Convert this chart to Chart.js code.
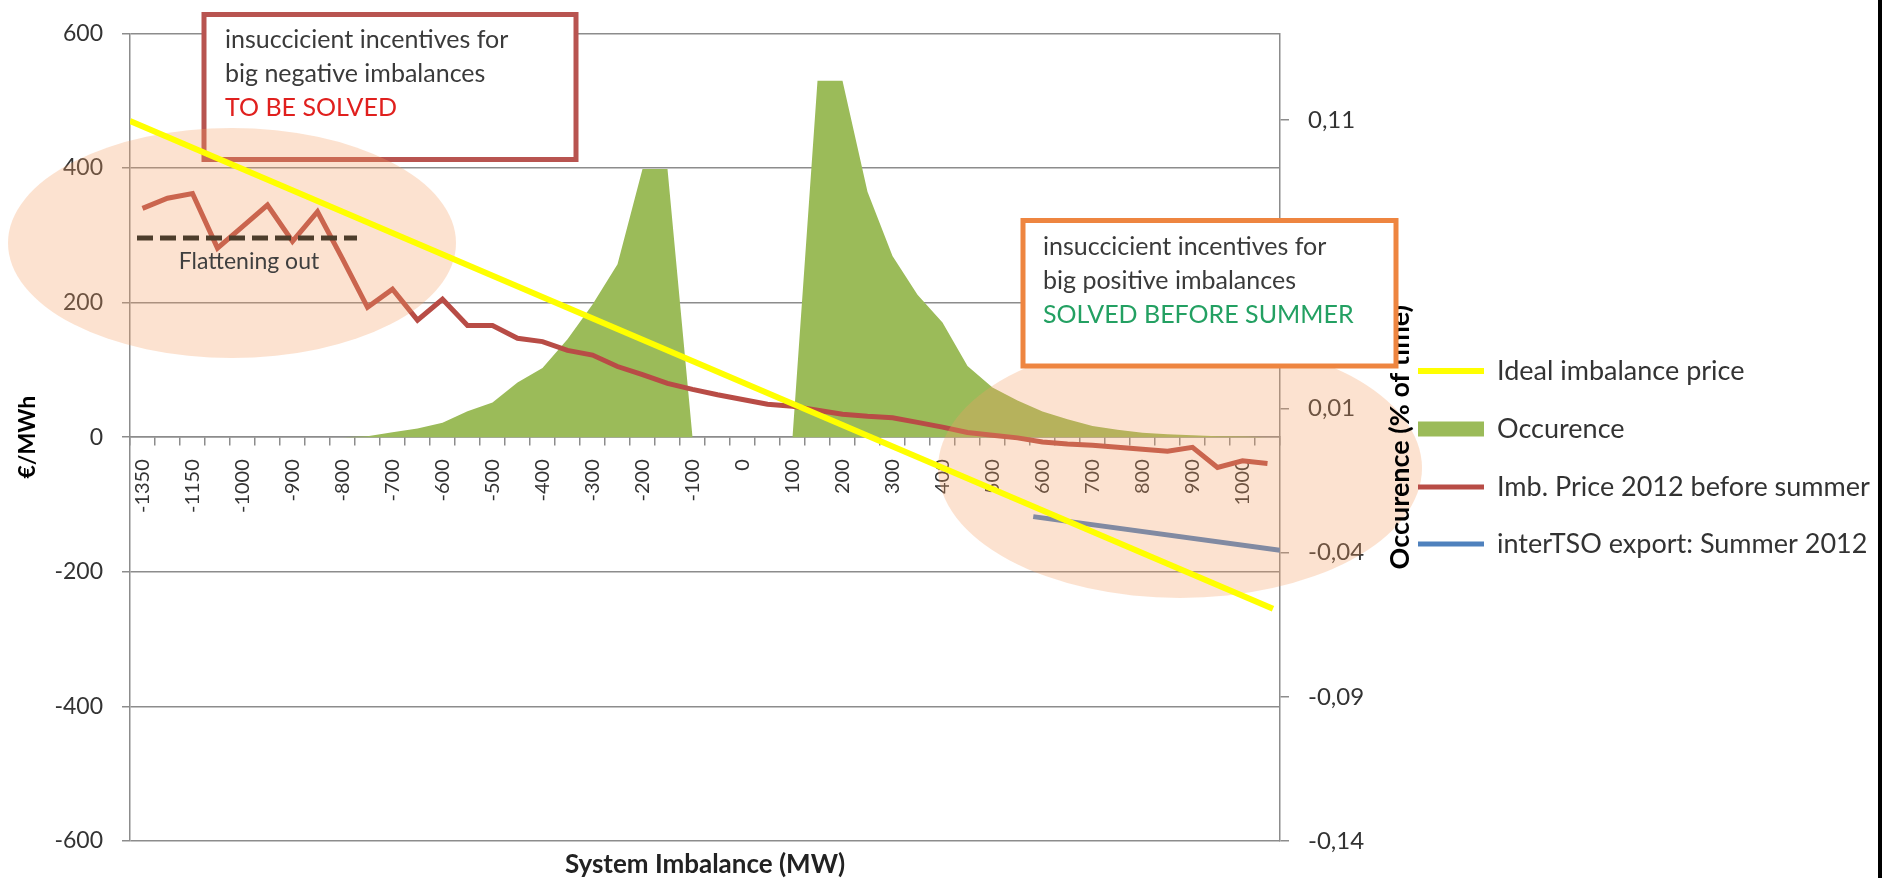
<!DOCTYPE html>
<html>
<head>
<meta charset="utf-8">
<script src="https://cdn.jsdelivr.net/npm/chart.js@4.4.1/dist/chart.umd.min.js"></script>
<style>
html,body{margin:0;padding:0;background:#fff;}
#wrap{width:1894px;height:878px;position:relative;overflow:hidden;}
</style>
</head>
<body>
<div id="wrap"><canvas id="c" width="1894" height="878"></canvas></div>
<script>
// ---------- data ----------
const categories = ['-1350','-1250','-1150','-1050','-1000','-950','-900','-850','-800','-750',
  '-700','-650','-600','-550','-500','-450','-400','-350','-300','-250',
  '-200','-150','-100','-50','0','50','100','150','200','250',
  '300','350','400','450','500','550','600','650','700','750',
  '800','850','900','950','1000','1050'];

// Occurence (right axis, % of time)
const occurence = [0,0,0,0,0,0,0,0,0,0.0003,
  0.0017,0.003,0.005,0.009,0.012,0.019,0.024,0.034,0.046,0.060,
  0.093,0.093,0,0,0,0,0,0.1236,0.1236,0.0851,
  0.0628,0.0494,0.0398,0.0247,0.0172,0.0127,0.0089,0.0062,0.0039,0.0026,
  0.0015,0.0010,0.0007,0.0003,0.0002,0];

// Imb. Price 2012 before summer (left axis, EUR/MWh)
const imbPrice = [340,355,362,281,313,345,291,335,265,193,
  220,174,205,166,166,147,142,129,122,105,
  93,80,71,63,56,49,46,40,34,31,
  29,22,15,7,3,-1,-7,-10,-12,-15,
  -18,-21,-15,-45,-35,-39];

// Ideal imbalance price: straight line (position in category units, value in EUR/MWh)
const idealX = [-0.5, 45.22];
const idealY = [470, -255];

// interTSO export: Summer 2012
const exportX = [35.63, 45.5];
const exportY = [-118, -168];

// Tick values
const rightTicks = [-0.14, -0.09, -0.04, 0.01, 0.06, 0.11];
const flatteningLevel = 296;
const flatteningRange = [-0.22, 8.58];

const seriesNames = ['Ideal imbalance price','Occurence','Imb. Price 2012 before summer','interTSO export: Summer 2012'];

// ---------- chart ----------
Chart.defaults.font.family = 'Lato, "Open Sans", sans-serif';
Chart.defaults.color = '#333';

const GRID = '#8c8c8c';

const annot = {
  id: 'annot',
  beforeDatasetDraw(chart, args) {
    if (args.index !== 0) return;
    const c = chart.ctx;
    // red box (below ellipse)
    c.save();
    c.fillStyle = '#ffffff';
    c.fillRect(204, 14.5, 372, 145);
    c.lineWidth = 5;
    c.strokeStyle = '#B85450';
    c.strokeRect(204, 14.5, 372, 145);
    c.font = '25px Lato';
    c.textAlign = 'left';
    c.textBaseline = 'alphabetic';
    c.fillStyle = '#3a3a3a';
    c.fillText('insuccicient incentives for', 225, 48);
    c.fillText('big negative imbalances', 225, 82);
    c.fillStyle = '#E0201E';
    c.fillText('TO BE SOLVED', 225, 116);
    // ellipses
    c.fillStyle = 'rgba(245,160,100,0.3)';
    c.beginPath();
    c.ellipse(232, 243, 224, 115, 0, 0, Math.PI * 2);
    c.fill();
    c.beginPath();
    c.ellipse(1180, 468, 242, 130, 0, 0, Math.PI * 2);
    c.fill();
    c.restore();
  },
  afterDatasetsDraw(chart) {
    const c = chart.ctx;
    const ys = chart.scales.y, xl = chart.scales.xl;
    c.save();
    // right axis title (reads bottom to top)
    c.save();
    c.translate(1400, (chart.chartArea.top + chart.chartArea.bottom) / 2);
    c.rotate(-Math.PI / 2);
    c.font = 'bold 27px Lato';
    c.fillStyle = '#000';
    c.textAlign = 'center';
    c.textBaseline = 'middle';
    c.fillText('Occurence (% of time)', 0, 0);
    c.restore();
    // orange box
    c.fillStyle = '#ffffff';
    c.fillRect(1023, 220.5, 373, 145.5);
    c.lineWidth = 5;
    c.strokeStyle = '#EE8540';
    c.strokeRect(1023, 220.5, 373, 145.5);
    c.font = '25px Lato';
    c.textAlign = 'left';
    c.textBaseline = 'alphabetic';
    c.fillStyle = '#3a3a3a';
    c.fillText('insuccicient incentives for', 1043, 255);
    c.fillText('big positive imbalances', 1043, 289);
    c.fillStyle = '#23A062';
    c.fillText('SOLVED BEFORE SUMMER', 1043, 323);
    // flattening dashed line
    const fy = ys.getPixelForValue(flatteningLevel);
    c.setLineDash([16, 7]);
    c.lineWidth = 5;
    c.strokeStyle = '#4d3d2b';
    c.beginPath();
    c.moveTo(xl.getPixelForValue(flatteningRange[0]), fy);
    c.lineTo(xl.getPixelForValue(flatteningRange[1]), fy);
    c.stroke();
    c.setLineDash([]);
    c.font = '23px Lato';
    c.fillStyle = '#3f3f3f';
    c.textAlign = 'center';
    c.textBaseline = 'middle';
    c.fillText('Flattening out', 249, fy + 24);
    // legend
    const legendY = [371, 429, 487, 544];
    c.font = '27px Lato';
    c.textAlign = 'left';
    c.textBaseline = 'middle';
    chart.data.datasets.forEach((ds, i) => {
      const y = legendY[i];
      if (ds.fill) {
        c.fillStyle = ds.backgroundColor;
        c.fillRect(1418, y - 7.5, 66, 15);
      } else {
        c.strokeStyle = ds.borderColor;
        c.lineWidth = ds.borderWidth;
        c.beginPath();
        c.moveTo(1418, y);
        c.lineTo(1484, y);
        c.stroke();
      }
      c.fillStyle = '#333';
      c.fillText(ds.label, 1497, y);
    });
    // right frame edge
    c.fillStyle = '#ffffff';
    c.fillRect(1878, 0, 16, 878);
    c.fillStyle = '#000000';
    c.fillRect(1878, 0, 4, 878);
    c.restore();
  }
};

new Chart(document.getElementById('c'), {
  type: 'line',
  data: {
    labels: categories,
    datasets: [
      {
        label: seriesNames[0],
        data: idealX.map((x, i) => ({x: x, y: idealY[i]})),
        xAxisID: 'xl', yAxisID: 'y',
        borderColor: '#FFFF00', borderWidth: 6,
        pointRadius: 0, tension: 0, order: 0, fill: false
      },
      {
        label: seriesNames[1],
        data: occurence,
        xAxisID: 'x', yAxisID: 'y2',
        backgroundColor: '#9BBB59', borderColor: 'rgba(0,0,0,0)', borderWidth: 0,
        pointRadius: 0, tension: 0, order: 3, fill: 'origin'
      },
      {
        label: seriesNames[2],
        data: imbPrice,
        xAxisID: 'x', yAxisID: 'y',
        borderColor: '#B84C46', borderWidth: 5,
        pointRadius: 0, tension: 0, order: 2, fill: false
      },
      {
        label: seriesNames[3],
        data: exportX.map((x, i) => ({x: x, y: exportY[i]})),
        xAxisID: 'xl', yAxisID: 'y',
        borderColor: '#4F81BD', borderWidth: 5,
        pointRadius: 0, tension: 0, order: 1, fill: false
      }
    ]
  },
  options: {
    responsive: false,
    animation: false,
    devicePixelRatio: 1,
    layout: {padding: {left: 0, top: 25, right: 514, bottom: 0}},
    plugins: {legend: {display: false}, tooltip: {enabled: false}},
    scales: {
      x: {
        type: 'category',
        position: {y: 0},
        offset: true,
        grid: {display: true, drawOnChartArea: false, offset: true, tickLength: 8, color: GRID, lineWidth: 1.5},
        border: {display: true, color: GRID, width: 1.5},
        ticks: {
          autoSkip: false, maxRotation: 90, minRotation: 90, padding: 14,
          font: {size: 20}, color: '#333',
          callback: (v, i) => (i % 2 === 0 ? categories[i] : '')
        },
        afterFit: s => { s.paddingLeft = 0; s.paddingRight = 0; }
      },
      xl: {
        type: 'linear',
        position: 'bottom',
        min: -0.5, max: 45.5,
        grid: {display: false},
        border: {display: false},
        ticks: {display: false},
        title: {display: true, text: 'System Imbalance (MW)', color: '#222',
          font: {size: 26, weight: 'bold', lineHeight: 1}, padding: {top: 0, bottom: 0}},
        afterFit: s => { s.height = 37; }
      },
      y: {
        type: 'linear',
        position: 'left',
        min: -600, max: 600,
        ticks: {stepSize: 200, padding: 19, font: {size: 23}, color: '#333', callback: v => String(v)},
        grid: {color: GRID, lineWidth: 1.5, tickLength: 8},
        border: {color: GRID, width: 1.5},
        title: {display: true, text: '€/MWh', color: '#000', font: {size: 23, weight: 'bold'}, padding: {top: 14, bottom: 0}},
        afterFit: s => { s.width = 130; }
      },
      y2: {
        type: 'linear',
        position: 'right',
        min: -0.14, max: 0.14,
        afterBuildTicks: s => { s.ticks = rightTicks.map(v => ({value: v})); },
        ticks: {padding: 19, font: {size: 24}, color: '#333', callback: v => v.toFixed(2).replace('.', ',')},
        grid: {drawOnChartArea: false, tickLength: 9, color: GRID, lineWidth: 1.5},
        border: {color: GRID, width: 1.5},
        afterFit: s => { s.width = 100; }
      }
    }
  },
  plugins: [annot]
});
</script>
</body>
</html>
